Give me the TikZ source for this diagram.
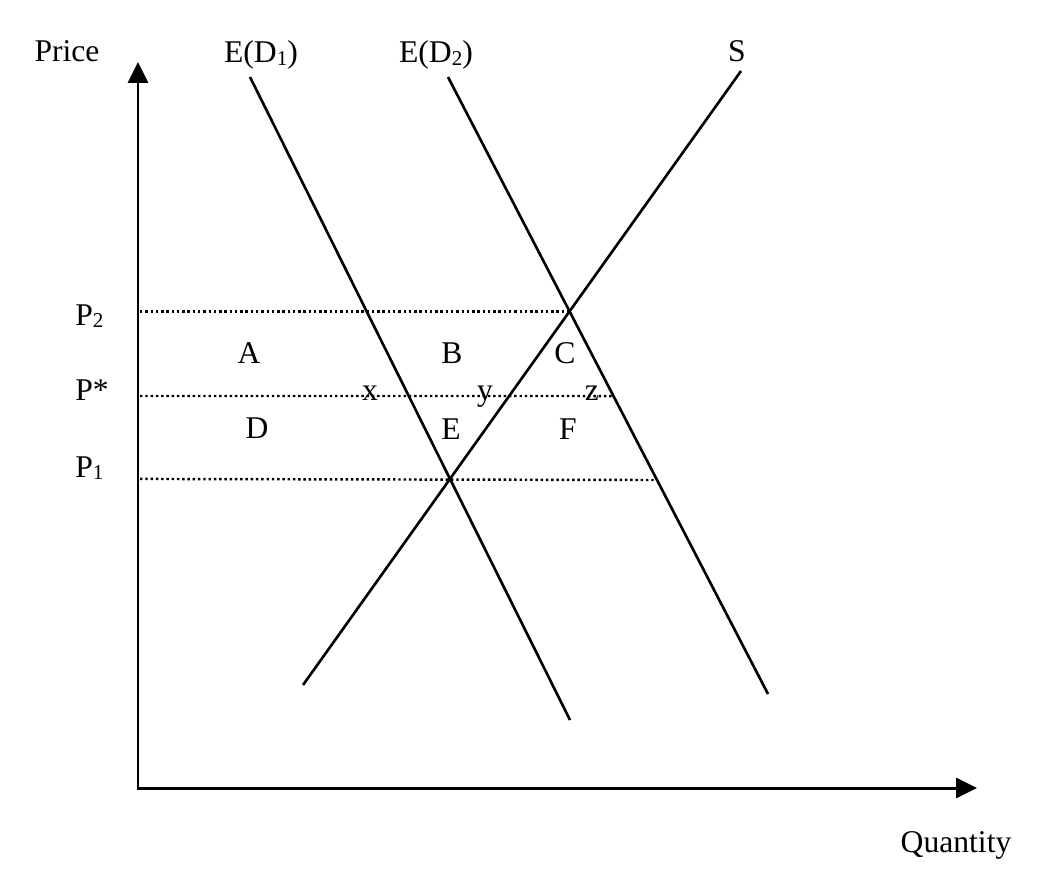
\documentclass[tikz,border=0pt]{standalone}
\usepackage{fontspec}
\setmainfont{Liberation Serif}
\usetikzlibrary{arrows.meta,calc}
\newcommand{\subidx}[1]{\raisebox{-1.5pt}{\fontsize{12}{12}\selectfont #1}}
\tikzset{
  axis/.style={line width=1.7pt,
    {Triangle[length=0.42cm,width=0.4cm]}-{Triangle[length=0.42cm,width=0.4cm]}},
  curve/.style={line width=1.5pt},
  level/.style={line width=1.4pt,dash pattern=on 1.4pt off 1.6pt},
  lbl/.style={inner sep=0pt,anchor=base,font=\fontsize{18}{21}\selectfont},
  lblw/.style={lbl,anchor=base west}
}

\begin{document}
\begin{tikzpicture}[x=0.02cm,y=-0.02cm]
  \useasboundingbox (0,0) rectangle (1047,868);
  % axes
  \coordinate (origin) at (138,788);
  \coordinate (ytop) at (138,62);
  \coordinate (xend) at (977,788);
  \draw[axis] (ytop) -- (origin) -- (xend);
  % demand and supply
  \coordinate (d1top) at (250,77);
  \coordinate (d1bot) at (570,720);
  \coordinate (d2top) at (448,77);
  \coordinate (d2bot) at (768,694);
  \coordinate (stop) at (741,71);
  \coordinate (sbot) at (303,685);
  \draw[curve] (d1top) -- (d1bot);
  \draw[curve] (d2top) -- (d2bot);
  \draw[curve] (stop) -- (sbot);
  % price levels
  \coordinate (eqhigh) at (intersection of d2top--d2bot and stop--sbot);
  \coordinate (eqlow) at (intersection of d1top--d1bot and stop--sbot);
  \coordinate (pstarend) at (intersection of d2top--d2bot and 0,396--1000,396);
  \coordinate (plowend) at (intersection of d2top--d2bot and 0,480--1000,480);
  \coordinate (phighstart) at (140,0 |- eqhigh);
  \coordinate (pstarstart) at (140,396);
  \coordinate (plowstart) at (140,0 |- eqlow);
  \draw[level] (phighstart) -- (eqhigh);
  \draw[level] (pstarstart) -- (pstarend);
  \draw[level] (plowstart) -- (plowend);
  % labels
  \node[lbl] (price) at (67,62) {Price};
  \node[lbl] (ed1) at (261,63) {E(D\subidx{1})};
  \node[lbl] (ed2) at (436,63) {E(D\subidx{2})};
  \node[lbl] (supply) at (737,62) {S};
  \node[lblw] (phigh) at (75,325) {P\subidx{2}};
  \node[lblw] (pstar) at (75,400) {P*};
  \node[lblw] (plow) at (75,477) {P\subidx{1}};
  \node[lbl] (areaA) at (249,363) {A};
  \node[lbl] (areaB) at (452,363) {B};
  \node[lbl] (areaC) at (565,363) {C};
  \node[lbl] (ptx) at (370,400) {x};
  \node[lbl] (pty) at (485,400) {y};
  \node[lbl] (ptz) at (592,400) {z};
  \node[lbl] (areaD) at (257,438) {D};
  \node[lbl] (areaE) at (451,439) {E};
  \node[lbl] (areaF) at (568,439) {F};
  \node[lbl] (quantity) at (956,852) {Quantity};
\end{tikzpicture}
\end{document}
